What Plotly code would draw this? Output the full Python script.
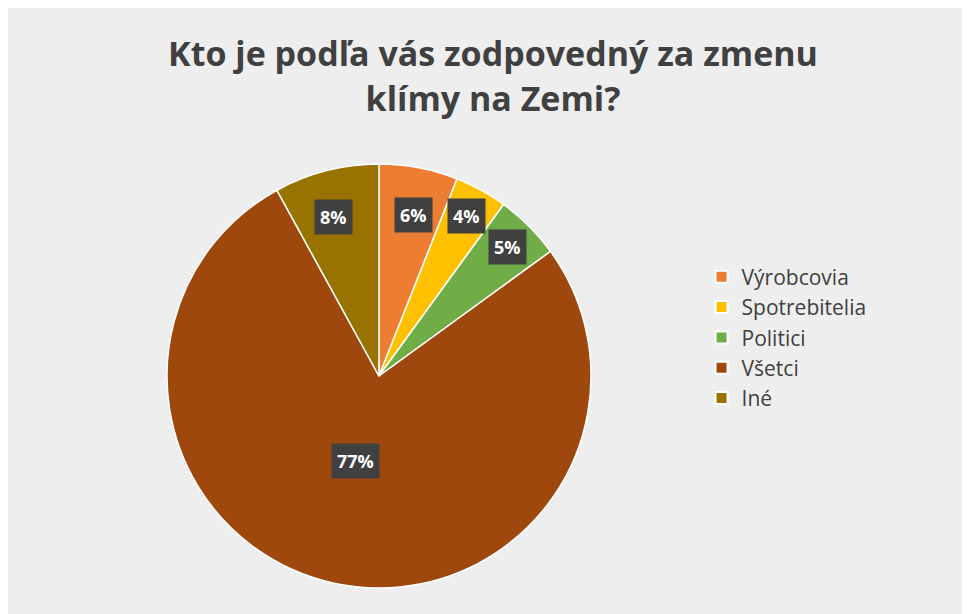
import math
import plotly.graph_objects as go

labels = ["Výrobcovia", "Spotrebitelia", "Politici", "Všetci", "Iné"]
values = [6, 4, 5, 77, 8]
colors = ["#ED7D31", "#FFC000", "#70AD47", "#9E480E", "#997300"]

W, H = 970, 614
cx, cy, r = 371, 368, 212

fig = go.Figure(go.Pie(
    labels=labels, values=values, sort=False, direction="clockwise", rotation=0,
    marker=dict(colors=colors, line=dict(color="white", width=1.5)),
    textinfo="none", hoverinfo="label+percent",
    domain=dict(x=[(cx - r) / W, (cx + r) / W], y=[1 - (cy + r) / H, 1 - (cy - r) / H]),
))

# percentage labels in dark boxes, placed at slice mid-angles
total = sum(values)
acc = 0
for v in values:
    mid = (acc + v / 2) / total * 2 * math.pi
    acc += v
    f = 0.5 if v / total > 0.5 else 0.86
    x = cx + f * r * math.sin(mid)
    y = cy - f * r * math.cos(mid)
    fig.add_annotation(x=x / W, y=1 - y / H, xref="paper", yref="paper",
                       text=f"<b>{round(v / total * 100)}%</b>", showarrow=False,
                       font=dict(family="Open Sans", size=18, color="white"),
                       bgcolor="#404040", borderpad=5)

fig.update_layout(
    width=W, height=H, margin=dict(l=0, r=0, t=0, b=0),
    paper_bgcolor="#eeeeee",
    title=dict(text="<b>Kto je podľa vás zodpovedný za zmenu<br>klímy na Zemi?</b>",
               x=0.5, xanchor="center", y=0.905, yanchor="bottom",
               font=dict(family="Open Sans", size=34, color="#404040")),
    legend=dict(x=0.715, y=0.595, xanchor="left", yanchor="top",
                font=dict(family="Open Sans", size=21, color="#404040"),
                tracegroupgap=0, itemsizing="constant", bgcolor="rgba(0,0,0,0)"),
)
fig.write_html("out.html")
